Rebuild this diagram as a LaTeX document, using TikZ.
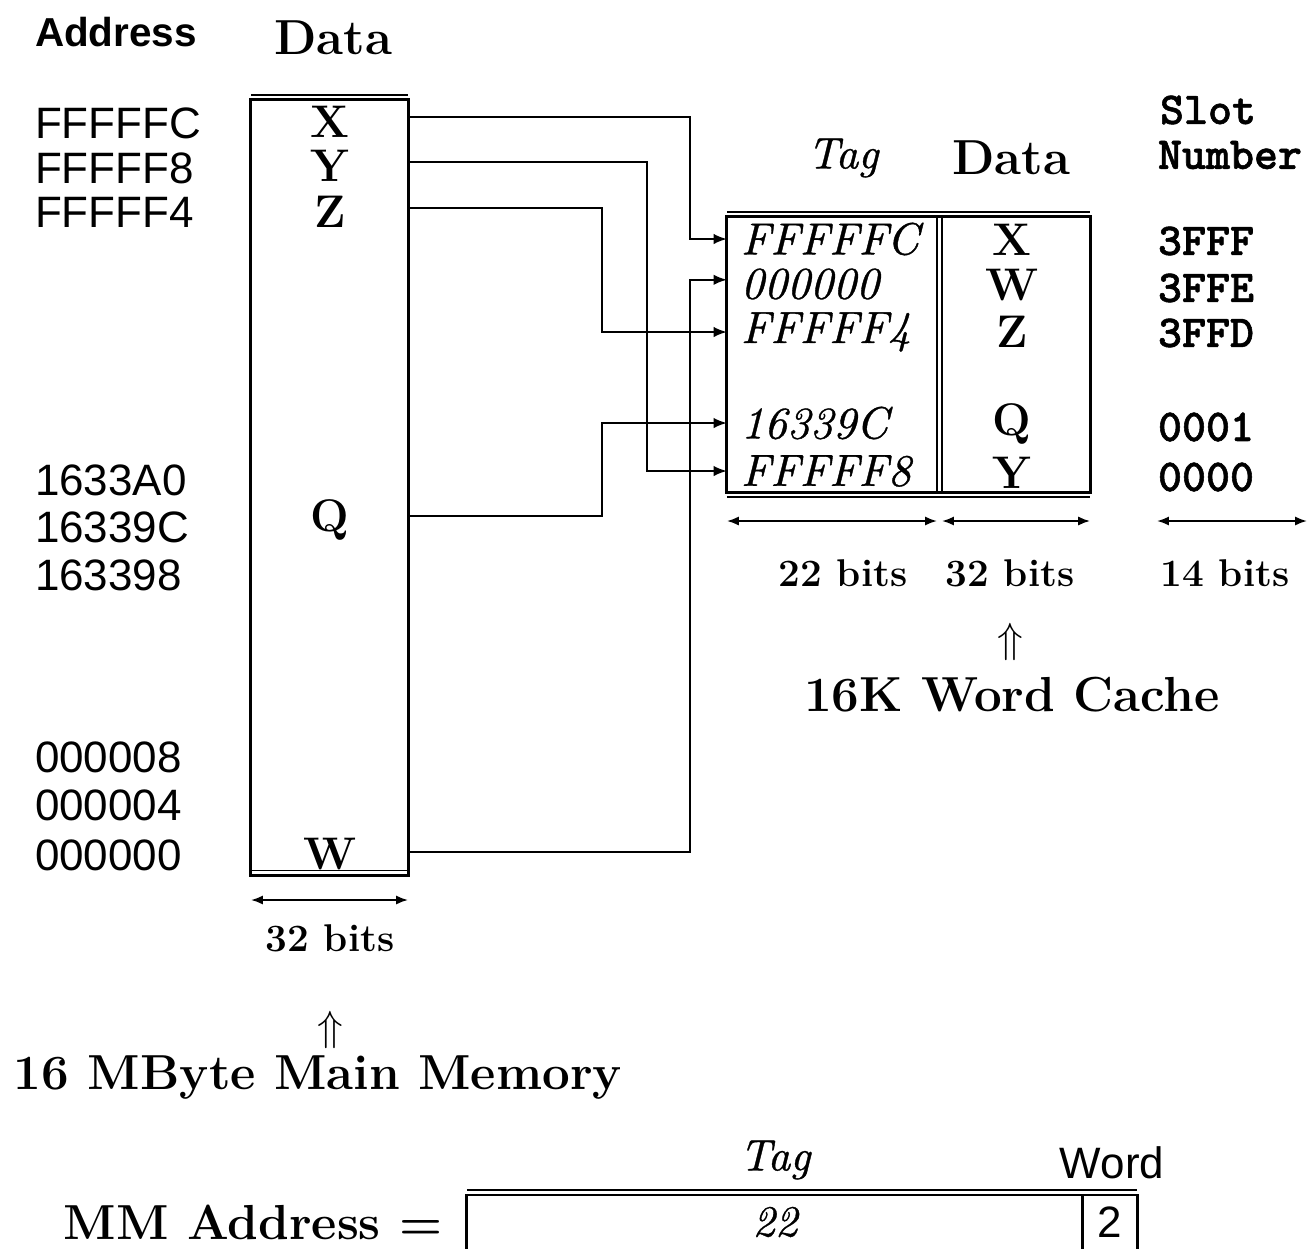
\documentclass[tikz,border=0pt]{standalone}
\usepackage{fontspec}
\newfontfamily\addrfont{Liberation Sans}
\newfontfamily\slotfont{lmmonolt10-bold.otf}[FakeBold=1.2]
\newfontfamily\itfont{lmroman10-italic.otf}[FakeBold=0.8]
\usetikzlibrary{arrows.meta}
\begin{document}
\begin{tikzpicture}[x=0.01cm,y=-0.01cm,
  every node/.style={inner sep=0pt, outer sep=0pt},
  boxln/.style={line width=0.85pt},
  thinln/.style={line width=0.45pt},
  conn/.style={line width=0.55pt,-{Latex[length=3.8pt,width=3pt]}},
  dimarr/.style={line width=0.55pt,{Latex[length=3.4pt,width=2.6pt]}-{Latex[length=3.4pt,width=2.6pt]}},
  addr/.style={anchor=west,font=\addrfont\fontsize{12.5}{14}\selectfont},
  addrhead/.style={anchor=west,font=\addrfont\bfseries\fontsize{11.5}{13}\selectfont},
  dlet/.style={font=\fontsize{13}{15}\selectfont\bfseries},
  tagt/.style={anchor=west,font=\itfont\fontsize{12.8}{14}\selectfont},
  itt/.style={font=\itfont\fontsize{12.5}{14}\selectfont},
  slott/.style={anchor=west,font=\slotfont\fontsize{13}{15}\selectfont},
  bitst/.style={font=\fontsize{11}{13}\selectfont\bfseries},
  bigt/.style={font=\fontsize{14}{16}\selectfont\bfseries},
  sanst/.style={font=\addrfont\fontsize{12.5}{14}\selectfont},
]
\path[use as bounding box, fill=white] (0,0) rectangle (1315,1248);

% ---------- main memory ----------
\node[addrhead] (hAddr) at (35,32) {Address};
\node[bigt] (hData) at (333,38) {Data};

\node[draw,boxln,minimum width=1.57cm,minimum height=7.75cm] (mem) at (329.5,487.5) {};
\draw[thinln] ([yshift=1.4pt]mem.north west) -- ([yshift=1.4pt]mem.north east);
\draw[thinln] ([yshift=1.4pt]mem.south west) -- ([yshift=1.4pt]mem.south east);

\node[dlet] (mX) at (330,122) {X};
\node[dlet] (mY) at (330,166) {Y};
\node[dlet] (mZ) at (330,212) {Z};
\node[dlet] (mQ) at (330,520) {Q};
\node[dlet] (mW) at (330,854) {W};
\coordinate (pX) at ([yshift=1.4pt]mX.center);
\coordinate (pY) at ([yshift=1.1pt]mY.center);
\coordinate (pZ) at ([yshift=1.1pt]mZ.center);
\coordinate (pQ) at ([yshift=1.1pt]mQ.center);
\coordinate (pW) at ([yshift=0.5pt]mW.center);

\node[addr] (a1) at (35,123) {FFFFFC};
\node[addr] (a2) at (35,168) {FFFFF8};
\node[addr] (a3) at (35,212) {FFFFF4};
\node[addr] (a4) at (35,480) {1633A0};
\node[addr] (a5) at (35,527) {16339C};
\node[addr] (a6) at (35,575) {163398};
\node[addr] (a7) at (35,757) {000008};
\node[addr] (a8) at (35,805) {000004};
\node[addr] (a9) at (35,855) {000000};

\coordinate (mdim) at (0,900);
\draw[dimarr] (mem.west |- mdim) -- (mem.east |- mdim);
\node[bitst] (mbits) at (330,938) {32 bits};
\node[font=\fontsize{13}{15}\selectfont] (mup) at (330,1030) {$\Uparrow$};
\node[bigt] (mlabel) at (318,1078) {16 MByte Main Memory};

% ---------- cache ----------
\node[itt] (cTag) at (843,158) {Tag};
\node[bigt] (cData) at (1011,158) {Data};
\node[slott] (sl1) at (1160,110) {Slot};
\node[slott] (sl2) at (1158,155) {Number};

\node[draw,boxln,minimum width=3.63cm,minimum height=2.75cm] (cache) at (908.5,354.5) {};
\draw[thinln] ([yshift=1.4pt]cache.north west) -- ([yshift=1.4pt]cache.north east);
\draw[thinln] ([yshift=-1.4pt]cache.south west) -- ([yshift=-1.4pt]cache.south east);
\coordinate (divA) at (937,0);
\coordinate (divB) at (942,0);
\draw[thinln] (divA |- cache.north) -- (divA |- cache.south);
\draw[line width=0.7pt] (divB |- cache.north) -- (divB |- cache.south);

\node[tagt] (tX) at (741,239) {FFFFFC};
\node[tagt] (tW) at (741,284) {000000};
\node[tagt] (tZ) at (741,332) {FFFFF4};
\node[tagt] (tQ) at (741,423) {16339C};
\node[tagt] (tY) at (741,471) {FFFFF8};
\coordinate (qW) at ([yshift=1.2pt]tW.center);

\node[dlet] (cX) at (1012,240) {X};
\node[dlet] (cW) at (1012,285) {W};
\node[dlet] (cZ) at (1012,332) {Z};
\node[dlet] (cQ) at (1012,424) {Q};
\node[dlet] (cY) at (1012,473) {Y};

\node[slott] (s1) at (1158,241) {3FFF};
\node[slott] (s2) at (1158,288) {3FFE};
\node[slott] (s3) at (1158,333) {3FFD};
\node[slott] (s4) at (1158,427) {0001};
\node[slott] (s5) at (1158,477) {0000};

\coordinate (cdim) at (0,521);
\coordinate (sdimL) at (1157,521);
\coordinate (sdimR) at (1307,521);
\draw[dimarr] (cache.west |- cdim) -- (divA |- cdim);
\draw[dimarr] (divB |- cdim) -- (cache.east |- cdim);
\draw[dimarr] (sdimL) -- (sdimR);
\node[bitst] (b22) at (843,573) {22 bits};
\node[bitst] (b32) at (1010,573) {32 bits};
\node[bitst] (b14) at (1225,573) {14 bits};
\node[font=\fontsize{13}{15}\selectfont] (cup) at (1010,642) {$\Uparrow$};
\node[bigt] (clabel) at (1012,695) {16K Word Cache};

% ---------- connectors ----------
\coordinate (eX) at (690,0);
\coordinate (eY) at (647,0);
\coordinate (eZ) at (602,0);
\coordinate (eQ) at (602,0);
\coordinate (eW) at (690,0);
\draw[conn] (mem.east |- pX) -| (eX |- tX) -- (cache.west |- tX);
\draw[conn] (mem.east |- pY) -| (eY |- tY) -- (cache.west |- tY);
\draw[conn] (mem.east |- pZ) -| (eZ |- tZ) -- (cache.west |- tZ);
\draw[conn] (mem.east |- pQ) -| (eQ |- tQ) -- (cache.west |- tQ);
\draw[conn] (mem.east |- pW) -| (eW |- qW) -- (cache.west |- qW);

% ---------- MM address ----------
\node[bigt] (mmlab) at (253,1222) {MM Address =};
\node[itt] (bTag) at (775,1160) {Tag};
\node[sanst] (bWord) at (1112,1163) {Word};
\begin{scope}
\clip (0,0) rectangle (1315,1248);
\node[draw,boxln,minimum width=6.70cm,minimum height=0.65cm] (mma) at (802,1227.5) {};
\draw[thinln] ([yshift=1.4pt]mma.north west) -- ([yshift=1.4pt]mma.north east);
\coordinate (wdiv) at (1082,0);
\draw[boxln] (wdiv |- mma.north) -- (wdiv |- mma.south);
\end{scope}
\node[itt] (b22v) at (775,1222) {22};
\node[sanst] (b2v) at (1110,1222) {2};
\end{tikzpicture}
\end{document}
